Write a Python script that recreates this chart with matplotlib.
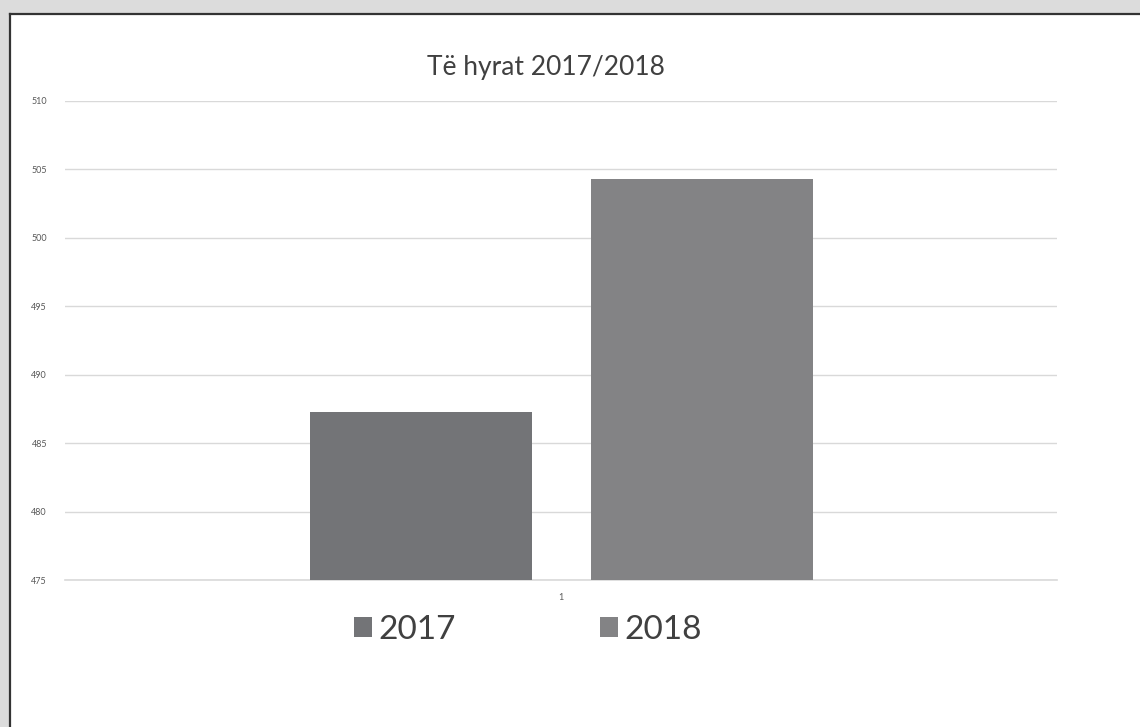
import matplotlib
matplotlib.use("Agg")
import matplotlib.pyplot as plt
from matplotlib.patches import Patch, Rectangle

plt.rcParams['font.family'] = ['Lato', 'DejaVu Sans']

years = ["2017", "2018"]
values = [487.3, 504.3]
colors = ["#737477", "#838385"]
yticks = [475, 480, 485, 490, 495, 500, 505, 510]

fig = plt.figure(figsize=(11.4, 7.27), dpi=100)
fig.patch.set_facecolor("white")

# grey frame strip at top and left, with a dark edge
fig.patches.append(Rectangle((0, 1 - 13 / 727), 1, 13 / 727, transform=fig.transFigure,
                             facecolor="#dcdcdc", edgecolor="none", zorder=0))
fig.patches.append(Rectangle((0, 0), 9 / 1140, 1, transform=fig.transFigure,
                             facecolor="#dcdcdc", edgecolor="none", zorder=0))
fig.add_artist(plt.Line2D([9.5 / 1140, 1], [1 - 13.5 / 727, 1 - 13.5 / 727],
                          transform=fig.transFigure, color="#333333", lw=1.6))
fig.add_artist(plt.Line2D([9.5 / 1140, 9.5 / 1140], [0, 1 - 13.5 / 727],
                          transform=fig.transFigure, color="#333333", lw=1.6))

ax = fig.add_axes([65 / 1140, 1 - 580 / 727, 992 / 1140, 479 / 727])
ax.set_facecolor("white")

width = 0.224
offsets = [-0.141, 0.142]
for yr, v, c, off in zip(years, values, colors, offsets):
    ax.bar(off, v - 475, bottom=475, width=width, color=c, label=yr, zorder=3)

ax.set_xlim(-0.5, 0.5)
ax.set_ylim(475, 510)
ax.set_yticks(yticks)
ax.set_yticklabels([str(t) for t in yticks], fontsize=6.5, color="#595959")
ax.set_xticks([0])
ax.set_xticklabels(["1"], fontsize=6.5, color="#595959")
ax.tick_params(axis="y", length=0, pad=13)
ax.tick_params(axis="x", length=0, pad=9)
ax.grid(axis="y", color="#d9d9d9", lw=1, zorder=0)
ax.axhline(475, color="#d9d9d9", lw=1.2, zorder=2, clip_on=False)
for s in ax.spines.values():
    s.set_visible(False)

fig.text(546 / 1140, 1 - 67 / 727, "Të hyrat 2017/2018", ha="center", va="center",
         fontsize=19, color="#404040")

handles = [Patch(facecolor=c, edgecolor="none") for c in colors]
fig.legend(handles, years, loc="center", bbox_to_anchor=(528 / 1140, 1 - 630 / 727),
           ncol=2, frameon=False, fontsize=24, handlelength=0.55, handleheight=0.55,
           handletextpad=0.2, columnspacing=4.3, labelcolor="#404040")

fig.savefig("out.png", dpi=100)
